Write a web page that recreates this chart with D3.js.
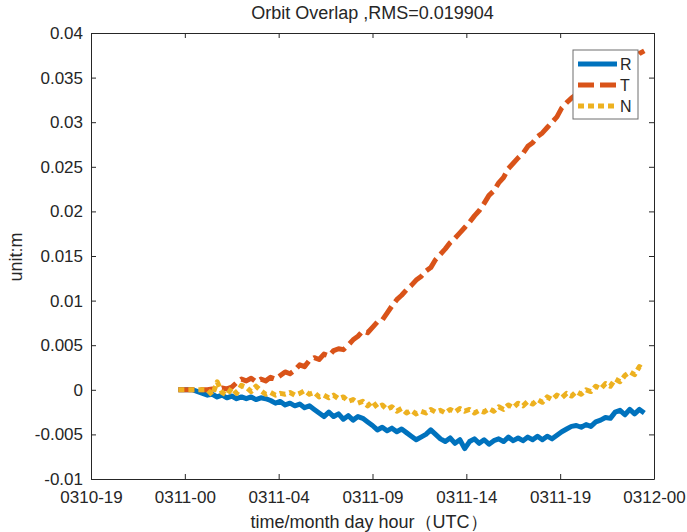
<!DOCTYPE html>
<html><head><meta charset="utf-8">
<script src="https://cdn.jsdelivr.net/npm/d3@7"></script>
<style>body{margin:0;background:#fff;} text{font-family:"Liberation Sans",Arial,sans-serif;fill:#262626;}</style>
</head><body>
<svg id="c" width="687" height="532"></svg>
<script>
// hours since 0310-19:00, every 15 minutes from 4.5 h to 28.5 h
const startHour = 4.5, stepHour = 0.25;
const seriesNames = ["R","T","N"];
const xTickLabels = ["0310-19","0311-00","0311-04","0311-09","0311-14","0311-19","0312-00"];
const yTickValues = [-0.01,-0.005,0,0.005,0.01,0.015,0.02,0.025,0.03,0.035,0.04];
const yTickLabels = ["-0.01","-0.005","0","0.005","0.01","0.015","0.02","0.025","0.03","0.035","0.04"];
const R = [0,0,0,0,-0.0002,-0.0004,-0.0006,-0.0005,-0.0008,-0.0006,-0.0009,-0.0007,-0.0010,-0.0008,-0.0010,-0.0008,-0.0011,-0.0009,-0.0010,-0.0012,
-0.0015,-0.0013,-0.0017,-0.0015,-0.0018,-0.0016,-0.0020,-0.0018,-0.0022,-0.0026,-0.0030,-0.0025,-0.0030,-0.0027,-0.0033,-0.0029,-0.0034,-0.0030,-0.0032,-0.0036,
-0.0040,-0.0045,-0.0042,-0.0046,-0.0043,-0.0047,-0.0044,-0.0048,-0.0052,-0.0056,-0.0053,-0.0050,-0.0045,-0.0050,-0.0055,-0.0058,-0.0054,-0.0060,-0.0056,-0.0066,
-0.0058,-0.0055,-0.0060,-0.0056,-0.0061,-0.0057,-0.0055,-0.0058,-0.0053,-0.0057,-0.0054,-0.0057,-0.0053,-0.0056,-0.0052,-0.0056,-0.0052,-0.0055,-0.0051,-0.0047,
-0.0044,-0.0041,-0.0040,-0.0042,-0.0039,-0.0041,-0.0036,-0.0034,-0.0031,-0.0032,-0.0025,-0.0023,-0.0028,-0.0022,-0.0027,-0.0022,-0.0026];
const T = [0,0,0,0,0,0,0,0.0001,0,0.0002,0.0001,0.0003,0.0008,0.0012,0.0010,0.0013,0.0009,0.0012,0.0010,0.0014,
0.0012,0.0016,0.0020,0.0018,0.0022,0.0028,0.0026,0.0033,0.0036,0.0034,0.0040,0.0038,0.0044,0.0046,0.0045,0.0050,0.0056,0.0060,0.0066,0.0064,
0.0070,0.0076,0.0078,0.0086,0.0094,0.0101,0.0106,0.0112,0.0117,0.0123,0.0127,0.0133,0.0137,0.0146,0.0152,0.0158,0.0165,0.0170,0.0176,0.0182,
0.0188,0.0195,0.0201,0.0209,0.0218,0.0223,0.0232,0.0238,0.0248,0.0254,0.0260,0.0265,0.0273,0.0277,0.0284,0.0288,0.0294,0.0300,0.0306,0.0316,
0.0322,0.0327,0.0331,0.0335,0.0339,0.0342,0.0345,0.0348,0.0351,0.0354,0.0357,0.0360,0.0364,0.0368,0.0372,0.0377,0.0380];
const N = [0,0,0,0,0,0,0,-0.0006,0.0009,-0.0003,-0.0006,0.0002,-0.0004,0.0005,0.0003,-0.0002,0.0004,-0.0001,-0.0005,-0.0003,
-0.0006,-0.0004,-0.0005,-0.0003,-0.0006,-0.0004,-0.0001,-0.0005,-0.0003,-0.0008,-0.0006,-0.0009,-0.0006,-0.0010,-0.0008,-0.0013,-0.0011,-0.0015,-0.0013,-0.0018,
-0.0013,-0.0020,-0.0017,-0.0022,-0.0019,-0.0024,-0.0021,-0.0026,-0.0023,-0.0027,-0.0024,-0.0026,-0.0022,-0.0025,-0.0023,-0.0026,-0.0022,-0.0025,-0.0021,-0.0024,
-0.0022,-0.0026,-0.0023,-0.0025,-0.0021,-0.0024,-0.0019,-0.0022,-0.0017,-0.0020,-0.0015,-0.0018,-0.0013,-0.0016,-0.0011,-0.0014,-0.0008,-0.0011,-0.0006,-0.0009,
-0.0004,-0.0007,-0.0002,-0.0005,0.0000,-0.0002,0.0004,0.0001,0.0007,0.0004,0.0012,0.0009,0.0016,0.0020,0.0017,0.0026,0.0022];
const colors = ["#0072BD","#D95319","#EDB120"];

const svg = d3.select("#c");
const L = 91, Rt = 654, Tp = 33, B = 479;
const x = d3.scaleLinear().domain([0, 29]).range([L, Rt]);
const y = d3.scaleLinear().domain([-0.01, 0.04]).range([B, Tp]);
const xTickVals = xTickLabels.map((d, i) => i * 29 / 6);

svg.append("defs").append("clipPath").attr("id","clip").append("rect")
  .attr("x", L).attr("y", Tp).attr("width", Rt - L).attr("height", B - Tp);

const data = [R, T, N];
const dashes = [null, "16,6", "6,4"];
const line = d3.line().x((d, i) => x(startHour + i * stepHour)).y(d => y(d));
const g = svg.append("g").attr("clip-path","url(#clip)");
data.forEach((s, k) => {
  g.append("path").datum(s).attr("d", line).attr("fill","none")
    .attr("stroke", colors[k]).attr("stroke-width", 5)
    .attr("stroke-linejoin","round")
    .attr("stroke-dasharray", dashes[k]);
});

// axes
const axCol = "#262626";
const fs = "17px";
const xb = svg.append("g").attr("transform", `translate(0,${B})`)
  .call(d3.axisBottom(x).tickValues(xTickVals).tickFormat((d, i) => xTickLabels[i]).tickSizeInner(-5).tickSizeOuter(0).tickPadding(12));
const xt = svg.append("g").attr("transform", `translate(0,${Tp})`)
  .call(d3.axisTop(x).tickValues(xTickVals).tickFormat("").tickSizeInner(-5).tickSizeOuter(0));
const yl = svg.append("g").attr("transform", `translate(${L},0)`)
  .call(d3.axisLeft(y).tickValues(yTickValues).tickFormat((d, i) => yTickLabels[i]).tickSizeInner(-5).tickSizeOuter(0).tickPadding(8));
const yr = svg.append("g").attr("transform", `translate(${Rt},0)`)
  .call(d3.axisRight(y).tickValues(yTickValues).tickFormat("").tickSizeInner(-5).tickSizeOuter(0));
[xb, xt, yl, yr].forEach(a => {
  a.selectAll("path").attr("stroke", axCol).attr("stroke-width", 1);
  a.selectAll("line").attr("stroke", axCol);
  a.selectAll("text").attr("font-size", fs).attr("fill", axCol)
    .style("font-family","'Liberation Sans',Arial,sans-serif");
});

svg.append("text").attr("x", (L + Rt) / 2).attr("y", 19).attr("text-anchor","middle")
  .attr("font-size","18px").text("Orbit Overlap ,RMS=0.019904");
svg.append("text").attr("x", 369).attr("y", 528).attr("text-anchor","middle")
  .attr("font-size","18px").text("time/month day hour（UTC）");
svg.append("text").attr("transform","translate(22,257) rotate(-90)").attr("text-anchor","middle")
  .attr("font-size","18px").text("unit:m");

// legend
const lg = svg.append("g");
lg.append("rect").attr("x", 573).attr("y", 50).attr("width", 65).attr("height", 69)
  .attr("fill","#fff").attr("stroke","#6e6e6e").attr("stroke-width",1);
seriesNames.forEach((nm, k) => {
  const yy = 64 + k * 21;
  lg.append("line").attr("x1", 578).attr("x2", 617).attr("y1", yy).attr("y2", yy)
    .attr("stroke", colors[k]).attr("stroke-width", 5).attr("stroke-dasharray", dashes[k]);
  lg.append("text").attr("x", 620).attr("y", yy + 6).attr("font-size","16px").text(nm);
});
</script>
</body></html>
